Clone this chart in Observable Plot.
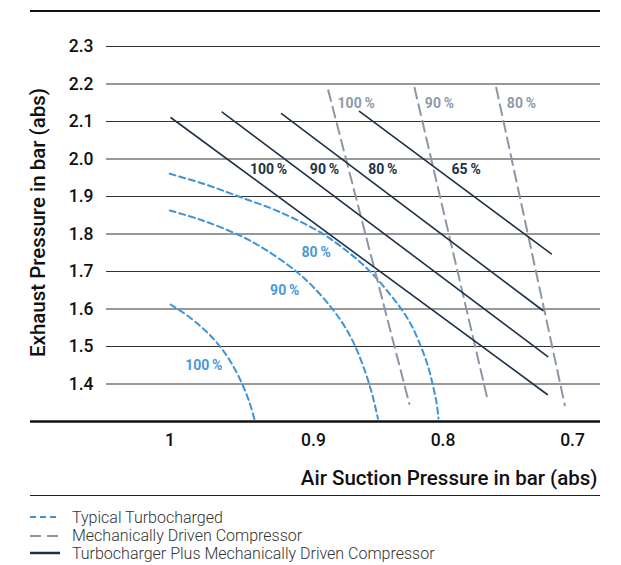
<!DOCTYPE html>
<html>
<head>
<meta charset="utf-8">
<script src="https://cdn.jsdelivr.net/npm/d3@7"></script>
<script src="https://cdn.jsdelivr.net/npm/@observablehq/plot@0.6"></script>
<style>
  html, body { margin: 0; padding: 0; background: #fff; }
  #wrap { position: relative; width: 621px; height: 565px; font-family: Roboto, "Noto Sans", sans-serif; }
  #chart { position: absolute; left: 0; top: 0; }
  .hline { position: absolute; left: 30px; width: 570px; background: #111; }
  .leg { position: absolute; left: 30px; height: 18px; display: flex; align-items: center;
         font-size: 16px; font-weight: 300; color: #333; white-space: nowrap; }
  .leg svg { margin-right: 12px; }
</style>
</head>
<body>
<div id="wrap">
  <div id="chart"></div>
  <div class="hline" style="top:9.5px;height:2px;"></div>
  <div class="hline" style="top:495px;height:1px;background:#222;"></div>
  <div id="legend"></div>
</div>
<script>
// ---- data ----
const yTicks = [1.4, 1.5, 1.6, 1.7, 1.8, 1.9, 2.0, 2.1, 2.2, 2.3];
const xTicks = [0.9, 0.8, 0.7];
const xTickFirst = [1];
const xTitle = "Air Suction Pressure in bar (abs)";
const yTitle = "Exhaust Pressure in bar (abs)";

// Typical Turbocharged (blue dashed curves) [suction, exhaust]
const turbo100 = [[1.0104,1.612],[0.9975,1.5827],[0.9873,1.5541],[0.9795,1.5288],[0.9718,1.4981],[0.964,1.4595],[0.9564,1.4101],[0.95,1.3568],[0.9456,1.3061]];
const turbo90 = [[1.011,1.8627],[0.9873,1.8381],[0.9577,1.7973],[0.9358,1.7557],[0.9126,1.6981],[0.8998,1.6573],[0.8851,1.5989],[0.8753,1.5499],[0.8676,1.4992],[0.8598,1.4299],[0.8544,1.3685],[0.8502,1.3072]];
const turbo80 = [[1.011,1.9605],[0.9842,1.9331],[0.9577,1.9],[0.9255,1.8579],[0.8925,1.7997],[0.873,1.7512],[0.8614,1.7173],[0.8508,1.68],[0.8405,1.6373],[0.8317,1.5973],[0.8243,1.556],[0.8174,1.5027],[0.812,1.452],[0.8081,1.4005],[0.805,1.3507],[0.8035,1.308]];
const turboLabelText = ["100\u2009%", "90\u2009%", "80\u2009%"];
const turboLabelX = [0.9847, 0.9222, 0.8979];
const turboLabelY = [1.449, 1.649, 1.75];

// Mechanically Driven Compressor (grey dashed lines)
const mech100 = [[0.8886,2.183],[0.826,1.347]];
const mech90 = [[0.822,2.190],[0.7651,1.3515]];
const mech80 = [[0.7589,2.190],[0.7059,1.343]];
const mechLabelText = ["100\u2009%", "90\u2009%", "80\u2009%"];
const mechLabelX = [0.867, 0.8027, 0.7394];
const mechLabelY = [2.149, 2.149, 2.149];

// Turbocharger Plus Mechanically Driven Compressor (solid navy lines)
const combo100 = [[1.010,2.110],[0.7195,1.372]];
const combo90 = [[0.9705,2.125],[0.7191,1.473]];
const combo80 = [[0.9247,2.121],[0.7229,1.596]];
const combo65 = [[0.8645,2.127],[0.7164,1.747]];
const comboLabelText = ["100\u2009%", "90\u2009%", "80\u2009%", "65\u2009%"];
const comboLabelX = [0.9347, 0.8915, 0.8465, 0.7821];
const comboLabelY = [1.971, 1.971, 1.971, 1.971];

const legendNames = ["Typical Turbocharged", "Mechanically Driven Compressor", "Turbocharger Plus Mechanically Driven Compressor"];

// ---- styles ----
const BLUE = "#3f93d6", BLUE_T = "#4a98d8";
const GREY = "#8c97a5", GREY_T = "#8f9aa8";
const NAVY = "#1d3246";
const xDomain = [1.1185, 0.6784];
const gridStart = 1.0598;

const labels = (xs, ys, ts) => xs.map((x, i) => ({x, y: ys[i], t: ts[i]}));
const P = d => d[0], Q = d => d[1];

const chart = Plot.plot({
  width: 621, height: 490,
  marginLeft: 30, marginRight: 21, marginTop: 46, marginBottom: 69,
  x: {domain: xDomain, axis: null},
  y: {domain: [1.3, 2.3], axis: null},
  style: {fontFamily: "Roboto, sans-serif", background: "transparent", overflow: "visible"},
  marks: [
    Plot.ruleY(yTicks, {x1: gridStart, x2: xDomain[1], stroke: "#333", strokeWidth: 1.2}),
    Plot.ruleY([1.3], {stroke: "#111", strokeWidth: 2.5}),
    Plot.text(yTicks, {x: gridStart, y: d => d, text: d => d.toFixed(1), textAnchor: "end", dx: -13,
      fontSize: 17.5, fontWeight: 500, fill: "#111"}),
    Plot.axisX(xTicks, {label: null, tickSize: 0, tickPadding: 12, fontSize: 17.5, fontWeight: 500, fill: "#111", tickFormat: d => String(d)}),
    Plot.axisX(xTickFirst, {label: null, tickSize: 0, tickPadding: 12, dx: -14, fontSize: 17.5, fontWeight: 500, fill: "#111", tickFormat: d => String(d)}),
    Plot.text([xTitle], {frameAnchor: "bottom-right", textAnchor: "end", lineAnchor: "middle", dx: -3, dy: 57,
      fontSize: 20.5, fontWeight: 500, fill: "#111"}),
    Plot.text([yTitle], {frameAnchor: "left", rotate: -90, textAnchor: "middle", lineAnchor: "middle", dx: 8, dy: -11.5,
      fontSize: 20.5, fontWeight: 500, fill: "#111"}),
    // blue
    ...[turbo100, turbo90, turbo80].map(s => Plot.line(s, {x: P, y: Q, stroke: BLUE, strokeWidth: 2, strokeDasharray: "6,4", curve: "catmull-rom"})),
    Plot.text(labels(turboLabelX, turboLabelY, turboLabelText), {x: "x", y: "y", text: "t", fill: BLUE_T, fontSize: 14, fontWeight: 700}),
    // grey
    ...[mech100, mech90, mech80].map(s => Plot.line(s, {x: P, y: Q, stroke: GREY, strokeWidth: 2, strokeDasharray: "11,6"})),
    Plot.text(labels(mechLabelX, mechLabelY, mechLabelText), {x: "x", y: "y", text: "t", fill: GREY_T, fontSize: 14, fontWeight: 700}),
    // navy
    ...[combo100, combo90, combo80, combo65].map(s => Plot.line(s, {x: P, y: Q, stroke: NAVY, strokeWidth: 1.6})),
    Plot.text(labels(comboLabelX, comboLabelY, comboLabelText), {x: "x", y: "y", text: "t", fill: NAVY, fontSize: 14, fontWeight: 700})
  ]
});
document.getElementById("chart").appendChild(chart);

// ---- legend ----
const legStyles = [
  {stroke: BLUE, dash: "6,4", w: 2},
  {stroke: GREY, dash: "11,6", w: 2},
  {stroke: NAVY, dash: null, w: 2.5}
];
const legTops = [508, 526.5, 544];
const leg = document.getElementById("legend");
legendNames.forEach((name, i) => {
  const row = document.createElement("div");
  row.className = "leg";
  row.style.top = legTops[i] + "px";
  const s = legStyles[i];
  row.innerHTML = `<svg width="30" height="6"><line x1="0" x2="30" y1="3" y2="3" stroke="${s.stroke}" stroke-width="${s.w}" ${s.dash ? `stroke-dasharray="${s.dash}"` : ""}/></svg><span>${name}</span>`;
  leg.appendChild(row);
});
</script>
</body>
</html>
